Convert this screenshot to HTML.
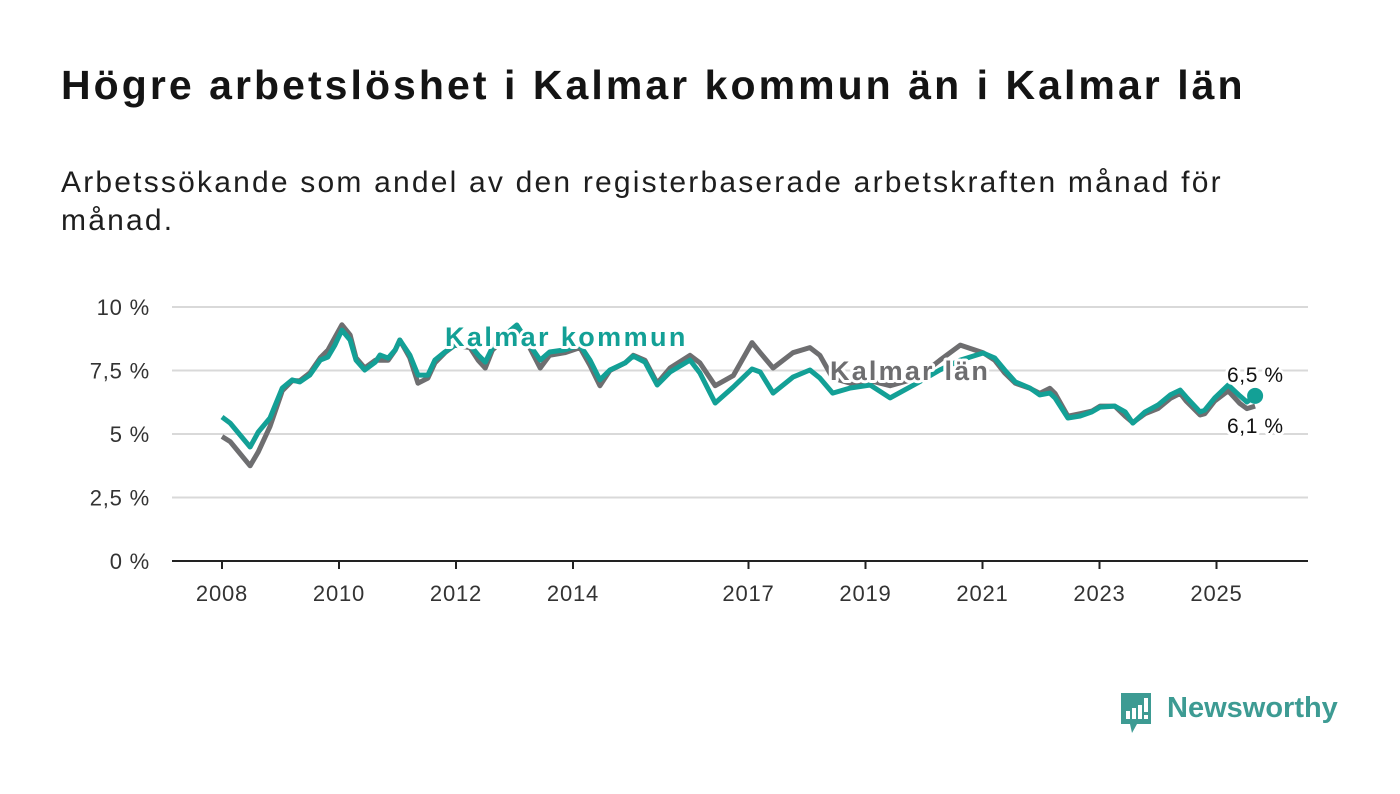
<!DOCTYPE html>
<html><head><meta charset="utf-8">
<style>
html,body{margin:0;padding:0;background:#fff;}
body{width:1400px;height:794px;position:relative;overflow:hidden;font-family:"Liberation Sans","DejaVu Sans",sans-serif;}
#title{position:absolute;left:61px;top:62px;font-size:41px;font-weight:bold;color:#141414;margin:0;letter-spacing:3.05px;white-space:nowrap;}
#sub{position:absolute;left:61px;top:164px;width:1200px;font-size:30px;line-height:38px;color:#1e1e1e;margin:0;letter-spacing:2.2px;}
svg{position:absolute;left:0;top:0;}
</style></head>
<body>
<h1 id="title">Högre arbetslöshet i Kalmar kommun än i Kalmar län</h1>
<p id="sub">Arbetssökande som andel av den registerbaserade arbetskraften månad för månad.</p>
<svg id="chart" width="1400" height="794"></svg>
<div style="position:absolute;left:1119px;top:691px;height:44px;">
  <svg width="36" height="44" style="position:absolute;left:0;top:0">
    <path d="M2 2 H32 V33 H18 L13 42 L11 33 H2 Z" fill="#3d9b93"/>
    <rect x="7" y="20" width="4" height="8" fill="#fff"/><rect x="13" y="17" width="4" height="11" fill="#fff"/><rect x="19" y="14" width="4" height="14" fill="#fff"/><rect x="25" y="7" width="4" height="14" fill="#fff"/><rect x="25" y="24" width="4" height="4" fill="#fff"/>
  </svg>
  <span style="position:absolute;left:48px;top:1px;font-size:29px;font-weight:bold;color:#3d9b93;white-space:nowrap;">Newsworthy</span>
</div>
<script>
const yTicks=[0,2.5,5,7.5,10];
const yTickLabels=["0 %","2,5 %","5 %","7,5 %","10 %"];
const xTicks=[2008,2010,2012,2014,2017,2019,2021,2023,2025];
const years=[2008.0,2008.14,2008.48,2008.62,2008.82,2009.03,2009.2,2009.33,2009.5,2009.68,2009.81,2009.93,2010.05,2010.19,2010.29,2010.44,2010.62,2010.7,2010.84,2010.96,2011.04,2011.21,2011.35,2011.52,2011.64,2011.81,2011.98,2012.24,2012.38,2012.5,2012.62,2012.84,2013.04,2013.26,2013.44,2013.6,2013.86,2014.12,2014.29,2014.46,2014.63,2014.89,2015.03,2015.23,2015.44,2015.66,2016.0,2016.17,2016.43,2016.74,2017.06,2017.2,2017.42,2017.76,2018.05,2018.22,2018.44,2018.74,2019.08,2019.42,2019.88,2020.27,2020.62,2021.01,2021.21,2021.38,2021.56,2021.81,2021.98,2022.15,2022.24,2022.46,2022.67,2022.87,2023.01,2023.26,2023.44,2023.57,2023.78,2024.0,2024.21,2024.38,2024.48,2024.72,2024.8,2024.97,2025.2,2025.4,2025.52,2025.66];
const kommun=[5.67,5.43,4.49,5.08,5.63,6.81,7.13,7.05,7.32,7.91,8.03,8.5,9.09,8.7,7.91,7.52,7.83,8.11,7.99,8.31,8.7,8.11,7.32,7.32,7.91,8.23,8.5,8.5,8.11,7.83,8.39,8.9,9.29,8.5,7.91,8.23,8.31,8.5,7.91,7.13,7.52,7.8,8.07,7.83,6.93,7.44,7.91,7.4,6.22,6.85,7.56,7.44,6.61,7.24,7.52,7.2,6.61,6.81,6.93,6.42,7.0,7.52,7.91,8.19,7.99,7.52,7.05,6.81,6.54,6.61,6.42,5.63,5.71,5.87,6.06,6.1,5.87,5.43,5.87,6.14,6.54,6.73,6.46,5.87,5.94,6.42,6.93,6.5,6.26,6.5];
const lan=[4.9,4.7,3.75,4.3,5.3,6.7,7.1,7.1,7.4,8.0,8.3,8.8,9.3,8.9,8.0,7.6,7.9,7.9,7.9,8.3,8.7,8.0,7.0,7.2,7.8,8.2,8.5,8.4,7.9,7.6,8.3,8.8,9.2,8.4,7.6,8.1,8.2,8.4,7.7,6.9,7.5,7.8,8.1,7.9,7.0,7.6,8.1,7.8,6.9,7.3,8.6,8.2,7.6,8.2,8.4,8.1,7.2,7.0,7.1,6.9,7.2,7.9,8.5,8.2,7.9,7.4,7.0,6.8,6.6,6.8,6.6,5.7,5.8,5.9,6.1,6.1,5.7,5.45,5.8,6.0,6.4,6.6,6.3,5.75,5.8,6.3,6.7,6.2,6.0,6.1];

const NS="http://www.w3.org/2000/svg";
const svg=document.getElementById('chart');
const X=y=>222+(y-2008)*58.5;
const Y=v=>561-v*25.4;
function mk(tag,attrs,parent){const e=document.createElementNS(NS,tag);for(const k in attrs)e.setAttribute(k,attrs[k]);(parent||svg).appendChild(e);return e;}

yTicks.forEach((t,i)=>{
  if(t>0){const g=mk('line',{x1:172,x2:1308,y1:Y(t),y2:Y(t),stroke:'#d9d9d9','stroke-width':2});
  
  }
  const tx=mk('text',{x:150,y:Y(t)+8,'text-anchor':'end','font-size':22,fill:'#333','letter-spacing':0.8,'font-family':'Liberation Sans, DejaVu Sans, sans-serif'});
  tx.textContent=yTickLabels[i];
  
  
});
const ax=mk('line',{x1:172,x2:1308,y1:561,y2:561,stroke:'#222','stroke-width':2});


xTicks.forEach(t=>{
  const tk=mk('line',{x1:X(t),x2:X(t),y1:561,y2:569,stroke:'#222','stroke-width':2});
  
  
  const tx=mk('text',{x:X(t),y:601,'text-anchor':'middle','font-size':22,fill:'#333','letter-spacing':0.8,'font-family':'Liberation Sans, DejaVu Sans, sans-serif'});
  tx.textContent=String(t);
  
  
});
function path(vals){return vals.map((v,i)=>(i?'L':'M')+X(years[i]).toFixed(1)+' '+Y(v).toFixed(1)).join(' ');}
const pl=mk('path',{d:path(lan),fill:'none',stroke:'#6e6e70','stroke-width':5,'stroke-linejoin':'round'});


const pk=mk('path',{d:path(kommun),fill:'none',stroke:'#13a096','stroke-width':5,'stroke-linejoin':'round'});


const last=years.length-1;
const dot=mk('circle',{cx:X(years[last]),cy:Y(kommun[last]),r:8,fill:'#13a096'});


function lbl(txt,x,y,size,weight,fill,ls){
  const t=mk('text',{x:x,y:y,'font-size':size,'font-weight':weight,fill:fill,stroke:'#fff','stroke-width':6,'paint-order':'stroke','stroke-linejoin':'round','letter-spacing':ls,'font-family':'Liberation Sans, DejaVu Sans, sans-serif'});
  t.textContent=txt;return t;}
const l1=lbl('Kalmar kommun',445,346,27,'bold','#13a096',2.4);


const l2=lbl('Kalmar län',830,380,27,'bold','#6e6e70',2.2);


const e1=lbl('6,5 %',1227,382,21,'normal','#111',0.6);


const e2=lbl('6,1 %',1227,433,21,'normal','#111',0.6);


</script>
</body></html>
